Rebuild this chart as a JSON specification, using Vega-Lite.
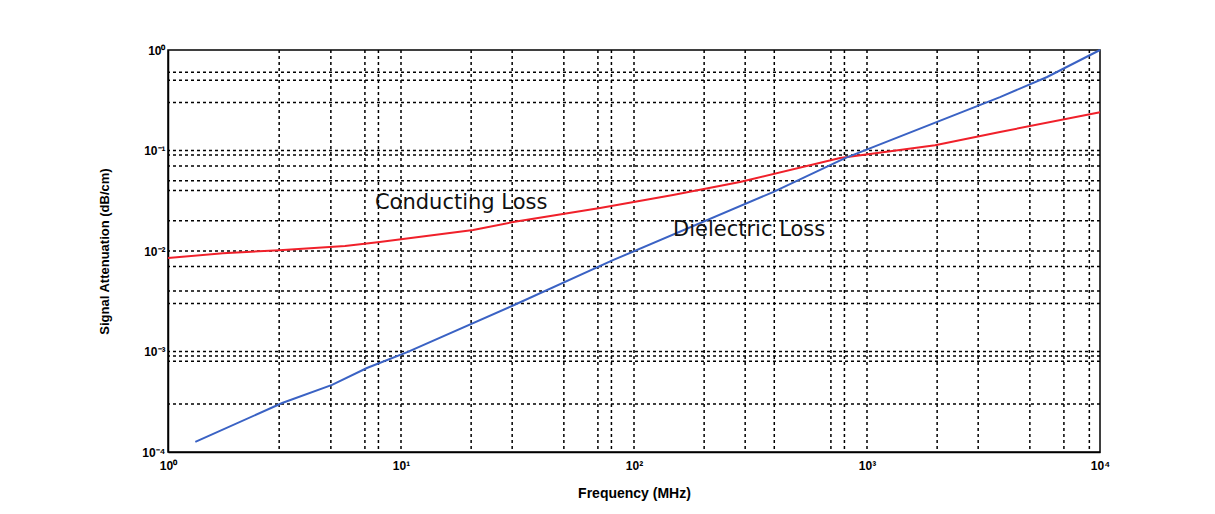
{
  "$schema": "https://vega.github.io/schema/vega-lite/v6.json",
  "width": 932,
  "height": 402,
  "autosize": {"type": "none"},
  "padding": {"left": 168, "top": 50, "right": 115, "bottom": 62},
  "background": "#ffffff",
  "config": {
    "view": {"stroke": "#000000", "strokeWidth": 1.5},
    "font": "Liberation Sans",
    "axis": {"domainColor": "#000000", "domainWidth": 1.5, "grid": false, "ticks": false, "labelColor": "#000000", "titleColor": "#000000", "labelFont": "Liberation Sans", "titleFont": "Liberation Sans"}
  },
  "datasets": {
    "curves": [
      {"series": "Conducting", "f": 1, "v": 0.0085},
      {"series": "Conducting", "f": 1.72, "v": 0.0095},
      {"series": "Conducting", "f": 3.0, "v": 0.0102},
      {"series": "Conducting", "f": 5.75, "v": 0.0112},
      {"series": "Conducting", "f": 8.1, "v": 0.0123},
      {"series": "Conducting", "f": 20.4, "v": 0.0162},
      {"series": "Conducting", "f": 30.3, "v": 0.0194},
      {"series": "Conducting", "f": 71.5, "v": 0.0268},
      {"series": "Conducting", "f": 147, "v": 0.0361},
      {"series": "Conducting", "f": 285, "v": 0.0486},
      {"series": "Conducting", "f": 766, "v": 0.0842},
      {"series": "Conducting", "f": 1959, "v": 0.113},
      {"series": "Conducting", "f": 3722, "v": 0.153},
      {"series": "Conducting", "f": 10000, "v": 0.24},
      {"series": "Dielectric", "f": 1.31, "v": 0.000126},
      {"series": "Dielectric", "f": 3.09, "v": 0.000307},
      {"series": "Dielectric", "f": 5.06, "v": 0.000465},
      {"series": "Dielectric", "f": 7.14, "v": 0.000685},
      {"series": "Dielectric", "f": 10.7, "v": 0.00099},
      {"series": "Dielectric", "f": 30.6, "v": 0.0029},
      {"series": "Dielectric", "f": 81.2, "v": 0.0081},
      {"series": "Dielectric", "f": 395, "v": 0.0386},
      {"series": "Dielectric", "f": 805, "v": 0.084},
      {"series": "Dielectric", "f": 3722, "v": 0.34},
      {"series": "Dielectric", "f": 5929, "v": 0.539},
      {"series": "Dielectric", "f": 10000, "v": 1.0}
    ],
    "vgrid": [
      {"f": 3}, {"f": 5}, {"f": 7}, {"f": 8}, {"f": 10},
      {"f": 20}, {"f": 30}, {"f": 50}, {"f": 70}, {"f": 80}, {"f": 100},
      {"f": 200}, {"f": 300}, {"f": 400}, {"f": 700}, {"f": 800}, {"f": 1000},
      {"f": 2000}, {"f": 3000}, {"f": 5000}, {"f": 7000}, {"f": 9000}
    ],
    "hgrid": [
      {"v": 0.6}, {"v": 0.5}, {"v": 0.3}, {"v": 0.1}, {"v": 0.09}, {"v": 0.07},
      {"v": 0.05}, {"v": 0.04}, {"v": 0.02}, {"v": 0.01}, {"v": 0.007}, {"v": 0.004},
      {"v": 0.003}, {"v": 0.001}, {"v": 0.0009}, {"v": 0.0008}, {"v": 0.0003}
    ],
    "labels": [
      {"text": "Conducting Loss", "f": 7.73, "v": 0.030},
      {"text": "Dielectric Loss", "f": 147, "v": 0.0162}
    ]
  },
  "layer": [
    {
      "data": {"name": "vgrid"},
      "mark": {"type": "rule", "color": "#000000", "strokeWidth": 1.5, "strokeDash": [3, 3]},
      "encoding": {
        "x": {"field": "f", "type": "quantitative", "scale": {"type": "log", "domain": [1, 10000]},
          "axis": {"values": [1, 10, 100, 1000, 10000], "title": "Frequency (MHz)", "labelExpr": "'10' + (round(log(datum.value)/LN10) == 0 ? '⁰' : round(log(datum.value)/LN10) == 1 ? '¹' : round(log(datum.value)/LN10) == 2 ? '²' : round(log(datum.value)/LN10) == 3 ? '³' : '⁴')", "labelFontSize": 12, "labelFontWeight": "bold", "labelPadding": 8, "titleFontSize": 14, "titleFontWeight": "bold", "titlePadding": 15, "labelFlush": false}}
      }
    },
    {
      "data": {"name": "hgrid"},
      "mark": {"type": "rule", "color": "#000000", "strokeWidth": 1.5, "strokeDash": [3, 3]},
      "encoding": {
        "y": {"field": "v", "type": "quantitative", "scale": {"type": "log", "domain": [0.0001, 1]},
          "axis": {"values": [0.0001, 0.001, 0.01, 0.1, 1], "title": "Signal Attenuation (dB/cm)", "labelExpr": "'10' + (round(log(datum.value)/LN10) == 0 ? '⁰' : round(log(datum.value)/LN10) == -1 ? '⁻¹' : round(log(datum.value)/LN10) == -2 ? '⁻²' : round(log(datum.value)/LN10) == -3 ? '⁻³' : '⁻⁴')", "labelFontSize": 12, "labelFontWeight": "bold", "labelPadding": 3, "titleFontSize": 13, "titleFontWeight": "bold", "titlePadding": 30, "labelFlush": false}}
      }
    },
    {
      "data": {"name": "curves"},
      "mark": {"type": "line", "strokeWidth": 2},
      "encoding": {
        "x": {"field": "f", "type": "quantitative", "scale": {"type": "log", "domain": [1, 10000]},
          "axis": {"values": [1, 10, 100, 1000, 10000], "title": "Frequency (MHz)", "labelExpr": "'10' + (round(log(datum.value)/LN10) == 0 ? '⁰' : round(log(datum.value)/LN10) == 1 ? '¹' : round(log(datum.value)/LN10) == 2 ? '²' : round(log(datum.value)/LN10) == 3 ? '³' : '⁴')", "labelFontSize": 12, "labelFontWeight": "bold", "labelPadding": 8, "titleFontSize": 14, "titleFontWeight": "bold", "titlePadding": 15, "labelFlush": false}},
        "y": {"field": "v", "type": "quantitative", "scale": {"type": "log", "domain": [0.0001, 1]},
          "axis": {"values": [0.0001, 0.001, 0.01, 0.1, 1], "title": "Signal Attenuation (dB/cm)", "labelExpr": "'10' + (round(log(datum.value)/LN10) == 0 ? '⁰' : round(log(datum.value)/LN10) == -1 ? '⁻¹' : round(log(datum.value)/LN10) == -2 ? '⁻²' : round(log(datum.value)/LN10) == -3 ? '⁻³' : '⁻⁴')", "labelFontSize": 12, "labelFontWeight": "bold", "labelPadding": 3, "titleFontSize": 13, "titleFontWeight": "bold", "titlePadding": 30, "labelFlush": false}},
        "color": {"field": "series", "type": "nominal", "scale": {"domain": ["Conducting", "Dielectric"], "range": ["#f0202a", "#3a62c4"]}, "legend": null}
      }
    },
    {
      "data": {"name": "labels"},
      "mark": {"type": "text", "align": "left", "baseline": "middle", "font": "DejaVu Sans", "fontSize": 21, "color": "#111111"},
      "encoding": {
        "x": {"field": "f", "type": "quantitative", "scale": {"type": "log", "domain": [1, 10000]}},
        "y": {"field": "v", "type": "quantitative", "scale": {"type": "log", "domain": [0.0001, 1]}},
        "text": {"field": "text"}
      }
    }
  ]
}
